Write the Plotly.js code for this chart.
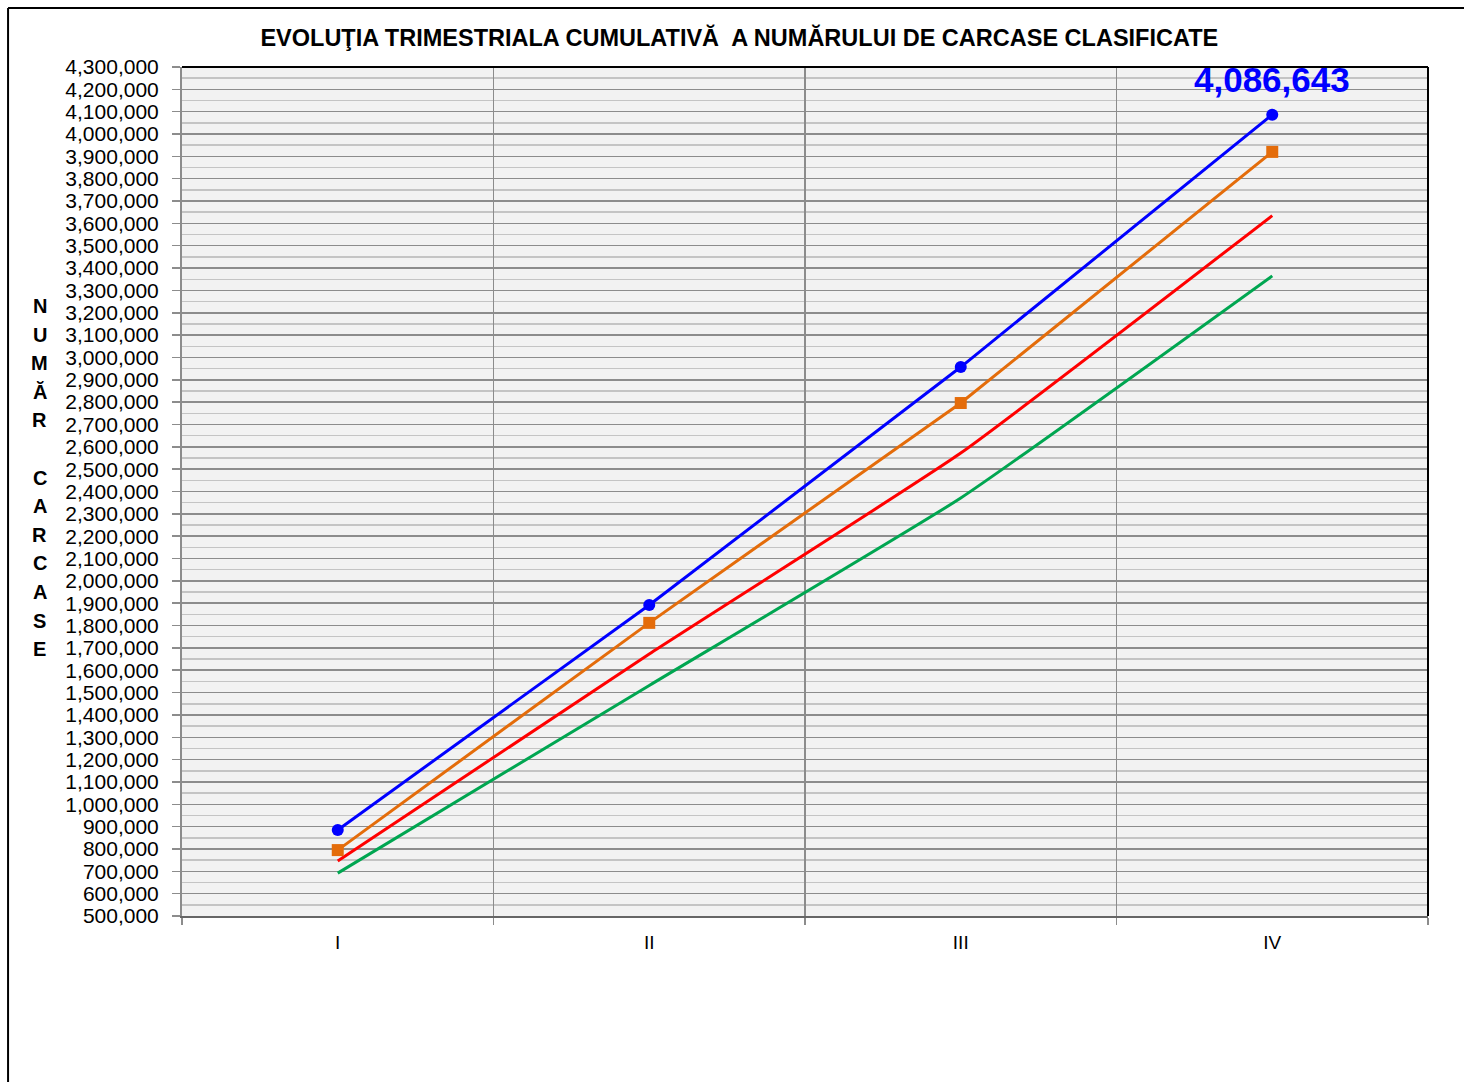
<!DOCTYPE html>
<html>
<head>
<meta charset="utf-8">
<script src="https://cdn.plot.ly/plotly-3.0.1.min.js"></script>
<style>body{margin:0;padding:0;background:#fff;}#chart{width:1464px;height:1082px;}</style>
</head>
<body>
<div id="chart"></div>
<script>
const quarters = ["I", "II", "III", "IV"];
const seriesBlue = [885000, 1892000, 2957000, 4086643];
const seriesOrange = [795000, 1812000, 2796000, 3920000];
const seriesRed = [746000, 1673000, 2572000, 3635000];
const seriesGreen = [692000, 1532000, 2371000, 3365000];
const titleText = "EVOLUŢIA TRIMESTRIALA CUMULATIVĂ  A NUMĂRULUI DE CARCASE CLASIFICATE";
const yTitleLetters = ["N", "U", "M", "Ă", "R", "", "C", "A", "R", "C", "A", "S", "E"];
const labelText = "4,086,643";

const font = "Liberation Sans, Arial, sans-serif";

const traces = [
  {x: quarters, y: seriesGreen, mode: "lines", line: {color: "#00a651", width: 3, shape: "spline", smoothing: 0.4}, hoverinfo: "y"},
  {x: quarters, y: seriesRed, mode: "lines", line: {color: "#ff0000", width: 3, shape: "spline", smoothing: 0.4}, hoverinfo: "y"},
  {x: quarters, y: seriesOrange, mode: "lines+markers", line: {color: "#e46c0a", width: 3}, marker: {symbol: "square", size: 12, color: "#e46c0a"}, hoverinfo: "y"},
  {x: quarters, y: seriesBlue, mode: "lines+markers", line: {color: "#0000ff", width: 3}, marker: {symbol: "circle", size: 12, color: "#0000ff"}, hoverinfo: "y"}
];

const annotations = [
  {x: quarters[3], y: seriesBlue[3], xref: "x", yref: "y", text: labelText, showarrow: false, yshift: 35,
   font: {family: font, size: 35, color: "#0000ff", weight: "bold"}}
];
yTitleLetters.forEach((ch, i) => {
  if (!ch) return;
  annotations.push({xref: "paper", yref: "paper", x: -0.114, y: (916 - (306 + i * 28.6)) / 849,
    text: "<b>" + ch + "</b>", showarrow: false, xanchor: "center", yanchor: "middle",
    font: {family: font, size: 20, color: "#000"}});
});

const layout = {
  width: 1464, height: 1082,
  margin: {l: 182, r: 36, t: 67, b: 166},
  paper_bgcolor: "#ffffff",
  plot_bgcolor: "#f2f2f2",
  showlegend: false,
  title: {text: "<b>" + titleText + "</b>", x: 0.505, xanchor: "center", y: 0.965, yanchor: "middle",
          font: {family: font, size: 23.5, color: "#000"}},
  xaxis: {
    type: "category", range: [-0.5, 3.5], tickson: "boundaries",
    showgrid: true, gridcolor: "#8c8c8c", gridwidth: 1.5,
    ticks: "outside", ticklen: 7, tickcolor: "#8c8c8c", tickwidth: 1.5,
    ticklabelstandoff: 8,
    showline: true, linecolor: "#666", linewidth: 2,
    tickfont: {family: font, size: 19, color: "#000"},
    zeroline: false, fixedrange: true
  },
  yaxis: {
    range: [500000, 4300000], dtick: 100000, tick0: 0, tickformat: ",d",
    showgrid: true, gridcolor: "#8c8c8c", gridwidth: 1.5,
    minor: {dtick: 50000, showgrid: true, gridcolor: "#c4c4c4", gridwidth: 1.5},
    ticks: "outside", ticklen: 8, tickcolor: "#8c8c8c", tickwidth: 1.5,
    ticklabelstandoff: 9,
    showline: true, linecolor: "#8c8c8c", linewidth: 2,
    tickfont: {family: font, size: 21, color: "#000"},
    zeroline: false, fixedrange: true
  },
  shapes: [
    {type: "line", xref: "paper", yref: "paper", x0: 0, x1: 1, y0: 1, y1: 1, line: {color: "#000", width: 2}},
    {type: "line", xref: "paper", yref: "paper", x0: 1, x1: 1, y0: 0, y1: 1, line: {color: "#000", width: 2}},
    {type: "line", xref: "paper", yref: "paper", x0: -0.1396, x1: 1.04, y0: 1.0695, y1: 1.0695, line: {color: "#000", width: 2}},
    {type: "line", xref: "paper", yref: "paper", x0: -0.1396, x1: -0.1396, y0: 1.0695, y1: -0.2, line: {color: "#000", width: 2}}
  ],
  annotations: annotations
};

Plotly.newPlot("chart", traces, layout, {displayModeBar: false, staticPlot: true});
</script>
</body>
</html>
